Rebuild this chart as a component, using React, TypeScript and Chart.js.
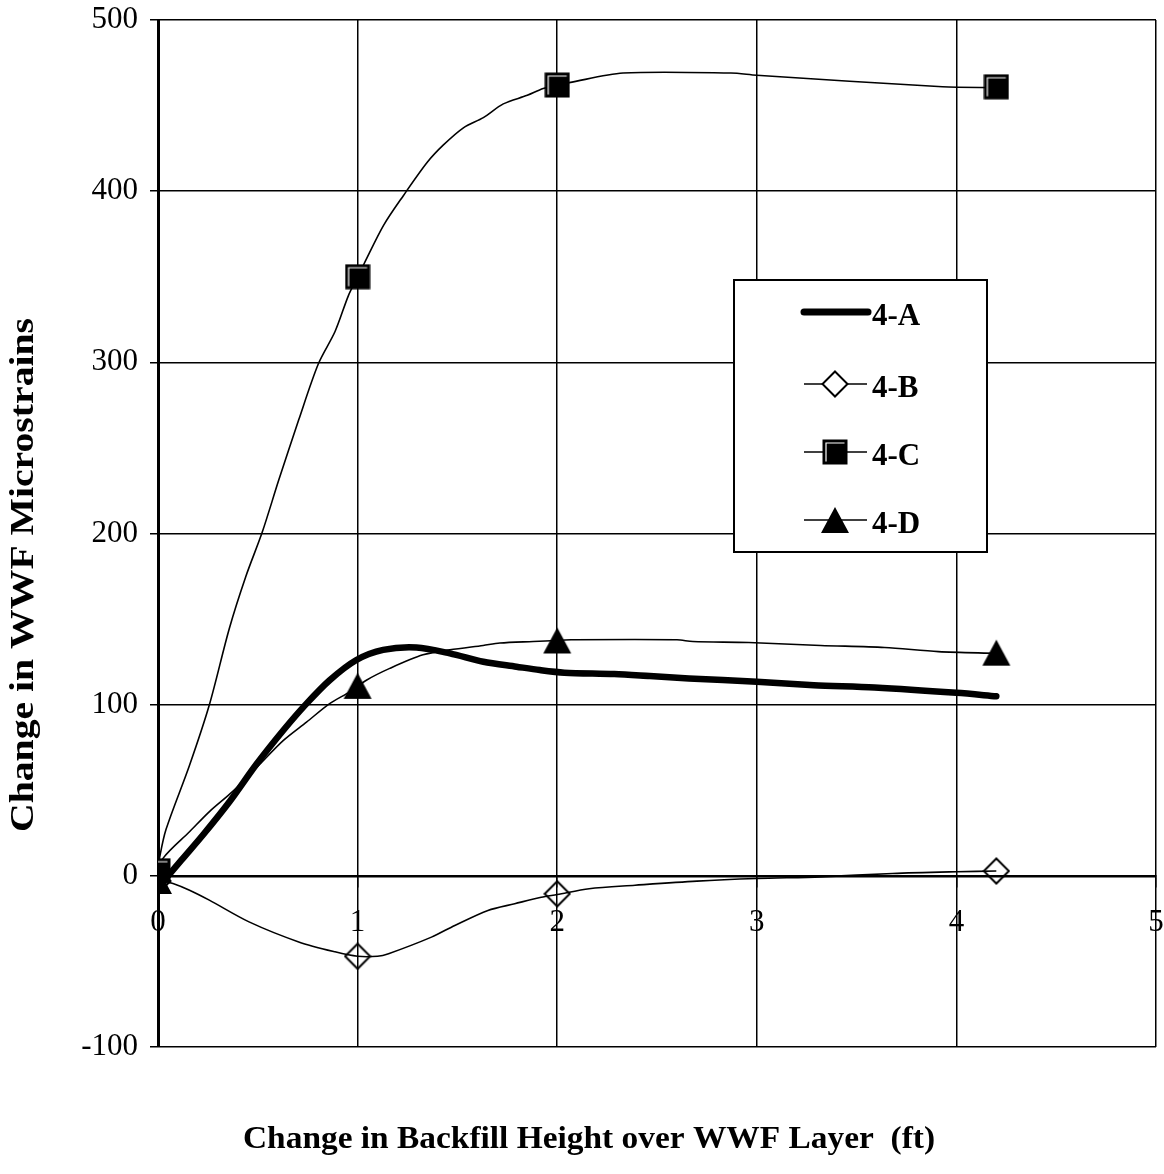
import React, { useEffect, useRef } from 'react';
import { Chart, registerables } from 'chart.js';

Chart.register(...registerables);

const WIDTH = 1164;
const HEIGHT = 1174;

// ---------- data ----------
const seriesNames = ['4-A', '4-B', '4-C', '4-D'];

const xTicks = [0, 1, 2, 3, 4, 5];
const yTicks = [-100, 0, 100, 200, 300, 400, 500];

const aX = [0, 0.04, 0.125, 0.226, 0.36, 0.493, 0.627, 0.744, 0.86, 0.994, 1.128, 1.295, 1.462, 1.63, 1.796, 1.913, 2.036, 2.286, 2.464, 2.66, 3.0, 3.286, 3.59, 4.0, 4.2];
const aY = [-8, -1.6, 10.2, 24, 43.6, 65.2, 84.9, 100.6, 114.3, 126.1, 132, 133.4, 130, 125.1, 122.2, 120.2, 118.7, 117.9, 116.7, 115.3, 113.4, 111.4, 110, 106.9, 104.9];

const bX = [0, 0.075, 0.158, 0.257, 0.456, 0.705, 0.887, 1.0, 1.1, 1.155, 1.37, 1.487, 1.653, 1.787, 1.92, 2.0, 2.16, 2.39, 2.7, 3.0, 3.32, 3.68, 4.0, 4.2];
const bY = [-2, -4.5, -8.4, -14.2, -26.9, -38.6, -44.4, -47, -47, -45.5, -35.8, -29, -20.2, -16.3, -12.5, -10.9, -7.5, -5.5, -3.1, -1.6, -0.6, 1.4, 2.4, 2.8];

const cX = [0, 0.008, 0.04, 0.158, 0.257, 0.357, 0.44, 0.522, 0.605, 0.705, 0.804, 0.887, 0.954, 1.0, 1.03, 1.13, 1.23, 1.35, 1.43, 1.53, 1.63, 1.73, 1.85, 1.93, 2.0, 2.06, 2.33, 2.87, 3.0, 3.93, 4.2];
const cY = [3, 10.6, 27, 64.6, 99.8, 144.4, 174.9, 200.7, 231.2, 266.4, 299.3, 318, 339, 350, 357, 380, 397.5, 417, 427, 437, 443, 451, 456, 460, 462, 463.4, 469, 469, 467.7, 461, 460.5];

const dX = [0, 0.025, 0.159, 0.259, 0.376, 0.51, 0.627, 0.744, 0.86, 0.961, 1.044, 1.161, 1.328, 1.462, 1.629, 1.713, 1.88, 2.0, 2.07, 2.6, 2.68, 2.96, 3.32, 3.64, 3.91, 4.2];
const dY = [0, 10.2, 25.9, 37.7, 49.5, 65.2, 79, 89.8, 100.6, 107.5, 114.3, 121.2, 129.1, 132, 134.6, 136, 136.9, 137.5, 137.9, 137.9, 136.9, 136.3, 134.6, 133.4, 131, 130];

const markerX = [0, 1, 2, 4.2];
const bMarkY = [-3, -47, -10.5, 2.8];
const cMarkY = [3, 350, 462, 461];
const dMarkY = [-3, 111, 137.5, 130.4];

const xTitle = 'Change in Backfill Height over WWF Layer  (ft)';
const yTitle = 'Change in WWF Microstrains';

const SERIF = '"Liberation Serif", "Times New Roman", serif';

const pts = (xs: number[], ys: number[]) => xs.map((x, i) => ({ x, y: ys[i] }));

// ---------- marker images ----------
function makeSquare(): HTMLCanvasElement {
  const c = document.createElement('canvas');
  c.width = 26; c.height = 26;
  const g = c.getContext('2d')!;
  g.fillStyle = '#000';
  g.fillRect(0.5, 0.5, 25, 25);
  g.strokeStyle = '#fff';
  g.lineWidth = 1.2;
  g.beginPath();
  g.moveTo(4, 22.5);
  g.lineTo(4, 4);
  g.lineTo(22.5, 4);
  g.stroke();
  return c;
}
function makeDiamond(fill: boolean): HTMLCanvasElement {
  const c = document.createElement('canvas');
  c.width = 28; c.height = 28;
  const g = c.getContext('2d')!;
  g.beginPath();
  g.moveTo(14, 1.5); g.lineTo(26.5, 14); g.lineTo(14, 26.5); g.lineTo(1.5, 14);
  g.closePath();
  if (fill) { g.fillStyle = '#fff'; g.fill(); }
  g.strokeStyle = '#000';
  g.lineWidth = 2;
  g.stroke();
  return c;
}
function makeTriangle(): HTMLCanvasElement {
  const c = document.createElement('canvas');
  c.width = 30; c.height = 28;
  const g = c.getContext('2d')!;
  g.beginPath();
  g.moveTo(15, 1); g.lineTo(29, 27); g.lineTo(1, 27);
  g.closePath();
  g.fillStyle = '#000';
  g.fill();
  return c;
}

function fitText(ctx: CanvasRenderingContext2D, text: string, targetWidth: number) {
  const w = ctx.measureText(text).width;
  const s = targetWidth / w;
  ctx.scale(s, 1);
  ctx.fillText(text, 0, 0);
}

export default function App() {
  const ref = useRef<HTMLCanvasElement | null>(null);

  useEffect(() => {
    if (!ref.current) return;
    const square = makeSquare();
    const diamondOpen = makeDiamond(false);
    const diamondFilled = makeDiamond(true);
    const triangle = makeTriangle();

    const overlay = {
      id: 'overlay',
      afterDraw(chart: any) {
        const ctx = chart.ctx as CanvasRenderingContext2D;
        ctx.save();
        // axis titles
        ctx.fillStyle = '#000';
        ctx.textAlign = 'center';
        ctx.textBaseline = 'middle';
        ctx.save();
        ctx.font = `bold 32px ${SERIF}`;
        ctx.translate(589, 1140);
        fitText(ctx, xTitle, 692);
        ctx.restore();
        ctx.save();
        ctx.font = `bold 34px ${SERIF}`;
        ctx.translate(24, 575);
        ctx.rotate(-Math.PI / 2);
        fitText(ctx, yTitle, 514);
        ctx.restore();

        // legend box
        const lx = 734, ly = 280, lw = 253, lh = 272;
        ctx.fillStyle = '#fff';
        ctx.fillRect(lx, ly, lw, lh);
        ctx.strokeStyle = '#000';
        ctx.lineWidth = 2;
        ctx.strokeRect(lx, ly, lw, lh);

        const rows = [312, 384, 452, 520];
        ctx.lineCap = 'round';
        ctx.lineWidth = 7;
        ctx.beginPath();
        ctx.moveTo(804, rows[0]); ctx.lineTo(868, rows[0]);
        ctx.stroke();
        ctx.lineCap = 'butt';
        ctx.lineWidth = 1.5;
        for (let i = 1; i < 4; i++) {
          ctx.beginPath();
          ctx.moveTo(804, rows[i]); ctx.lineTo(867, rows[i]);
          ctx.stroke();
        }
        const imgs = [null, diamondFilled, square, triangle];
        for (let i = 1; i < 4; i++) {
          const im = imgs[i] as HTMLCanvasElement;
          ctx.drawImage(im, 835 - im.width / 2, rows[i] - im.height / 2);
        }
        ctx.fillStyle = '#000';
        ctx.font = `bold 31px ${SERIF}`;
        ctx.textAlign = 'left';
        ctx.textBaseline = 'middle';
        for (let i = 0; i < 4; i++) {
          ctx.fillText(seriesNames[i], 872, rows[i] + 5);
        }
        ctx.restore();
      },
    };

    const lineStyle = { borderColor: '#000', pointRadius: 0, fill: false, tension: 0.3, showLine: true };
    const markerStyle = { showLine: false, pointRadius: 2, pointBorderWidth: 0, pointHoverRadius: 2, pointHoverBorderWidth: 0 };

    const zeroPad = (s: any) => {
      s.paddingLeft = 0; s.paddingRight = 0; s.paddingTop = 0; s.paddingBottom = 0;
    };

    const chart = new Chart(ref.current, {
      type: 'scatter',
      data: {
        datasets: [
          { label: seriesNames[2] + ' markers', data: pts(markerX, cMarkY), ...markerStyle, pointStyle: square as any },
          { label: seriesNames[3] + ' markers', data: pts(markerX, dMarkY), ...markerStyle, pointStyle: triangle as any },
          { label: seriesNames[1] + ' markers', data: pts(markerX, bMarkY), ...markerStyle, pointStyle: diamondOpen as any },
          { label: seriesNames[0], data: pts(aX, aY), ...lineStyle, borderWidth: 6.5, borderCapStyle: 'round', borderJoinStyle: 'round' },
          { label: seriesNames[1], data: pts(bX, bY), ...lineStyle, borderWidth: 1.6 },
          { label: seriesNames[2], data: pts(cX, cY), ...lineStyle, borderWidth: 1.6 },
          { label: seriesNames[3], data: pts(dX, dY), ...lineStyle, borderWidth: 1.6 },
        ] as any,
      },
      options: {
        animation: false,
        responsive: false,
        devicePixelRatio: 1,
        events: [],
        layout: { padding: { left: 0, right: 8, top: 20, bottom: 127 } },
        plugins: { legend: { display: false }, tooltip: { enabled: false }, title: { display: false } },
        scales: {
          x: {
            type: 'linear',
            min: xTicks[0],
            max: xTicks[xTicks.length - 1],
            position: { y: 0 } as any,
            afterBuildTicks: (s: any) => { s.ticks = xTicks.map((v) => ({ value: v })); },
            afterFit: zeroPad,
            ticks: { color: '#000', font: { family: SERIF, size: 31 }, padding: 18, maxRotation: 0, autoSkip: false },
            grid: { color: '#000', lineWidth: 1.5, tickLength: 10 },
            border: { color: '#000', width: 2.5 },
          },
          y: {
            type: 'linear',
            min: yTicks[0],
            max: yTicks[yTicks.length - 1],
            afterBuildTicks: (s: any) => { s.ticks = yTicks.map((v) => ({ value: v })); },
            afterFit: (s: any) => { s.width = 158; zeroPad(s); },
            ticks: { color: '#000', font: { family: SERIF, size: 31 }, padding: 12, autoSkip: false },
            grid: { color: '#000', lineWidth: 1.5, tickLength: 8 },
            border: { color: '#000', width: 3 },
          },
        },
      },
      plugins: [overlay],
    });
    return () => chart.destroy();
  }, []);

  return (
    <div style={{ position: 'absolute', left: 0, top: 0, width: WIDTH, height: HEIGHT, background: '#fff' }}>
      <canvas ref={ref} width={WIDTH} height={HEIGHT} style={{ display: 'block', width: WIDTH, height: HEIGHT }} />
    </div>
  );
}
